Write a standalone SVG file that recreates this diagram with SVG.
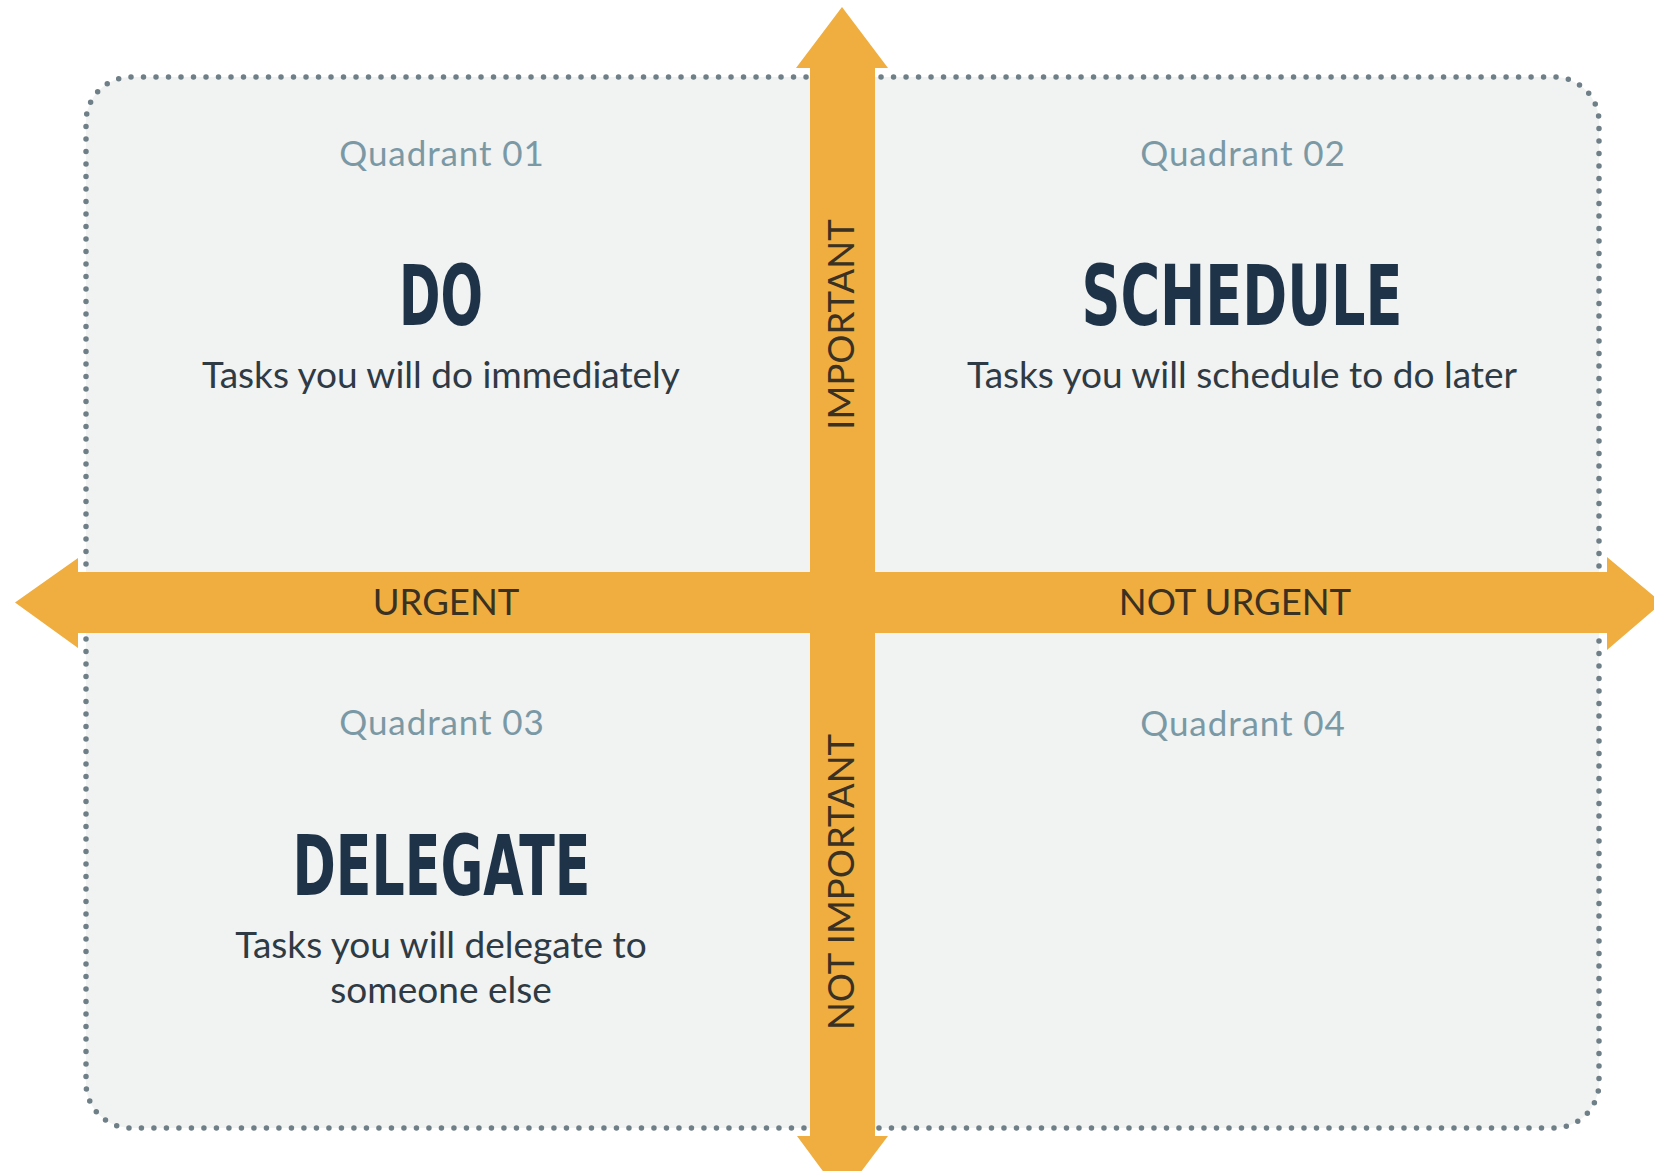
<svg xmlns="http://www.w3.org/2000/svg" width="1654" height="1171" viewBox="0 0 1654 1171">
  <style>
    .board { fill: #f1f2f2; stroke: #6f7f87; stroke-width: 5.5; stroke-linecap: round; stroke-dasharray: 0 1; }
    .axis { fill: #efae3f; }
    .axis-label { font-family: Lato, "Open Sans", "Liberation Sans", sans-serif; font-size: 36.5px; fill: #3a3122; text-anchor: middle; }
    .quad-label { font-family: Lato, "Open Sans", "Liberation Sans", sans-serif; font-size: 35px; letter-spacing: 0.9px; fill: #7a99a5; text-anchor: middle; }
    .title { font-family: "DejaVu Sans Condensed", "Liberation Sans Narrow", "DejaVu Sans", sans-serif; font-weight: bold; font-size: 84px; fill: #1f3348; text-anchor: middle; }
    .desc { font-family: Lato, "Open Sans", "Liberation Sans", sans-serif; font-size: 37px; fill: #2e3a44; text-anchor: middle; }
  </style>

  <rect width="1654" height="1171" fill="#ffffff"/>

  <!-- dotted rounded board behind the four quadrants -->
  <rect id="board" class="board" x="86" y="77" width="1513" height="1051" rx="45" ry="45" pathLength="404"/>

  <!-- quadrants -->
  <g id="q1">
    <text class="quad-label" x="442" y="166">Quadrant 01</text>
    <text class="title" x="441" y="325" textLength="84" lengthAdjust="spacingAndGlyphs">DO</text>
    <text class="desc" x="441" y="388">Tasks you will do immediately</text>
  </g>
  <g id="q2">
    <text class="quad-label" x="1243" y="166">Quadrant 02</text>
    <text class="title" x="1242" y="325" textLength="321" lengthAdjust="spacingAndGlyphs">SCHEDULE</text>
    <text class="desc" x="1242" y="388">Tasks you will schedule to do later</text>
  </g>
  <g id="q3">
    <text class="quad-label" x="442" y="735">Quadrant 03</text>
    <text class="title" x="441.5" y="895" textLength="298" lengthAdjust="spacingAndGlyphs">DELEGATE</text>
    <text class="desc" x="441" y="958">Tasks you will delegate to</text>
    <text class="desc" x="441" y="1003">someone else</text>
  </g>
  <g id="q4">
    <text class="quad-label" x="1243" y="736">Quadrant 04</text>
  </g>

  <!-- axes: double-headed arrows crossing at the centre -->
  <g id="connectors">
    <polygon id="axis-vertical" class="axis" points="842,7 888,68 875,68 875,1136 888,1136 842,1197 797,1136 810,1136 810,68 796,68"/>
    <polygon id="axis-horizontal" class="axis" points="15,602.5 78,558 78,572 1607,572 1607,557 1662,603 1607,650 1607,633 78,633 78,648"/>
    <text class="axis-label" x="446" y="615">URGENT</text>
    <text class="axis-label" x="1235" y="615">NOT URGENT</text>
    <text class="axis-label" transform="translate(854 324.5) rotate(-90)">IMPORTANT</text>
    <text class="axis-label" transform="translate(854 882) rotate(-90)">NOT IMPORTANT</text>
  </g>
</svg>
